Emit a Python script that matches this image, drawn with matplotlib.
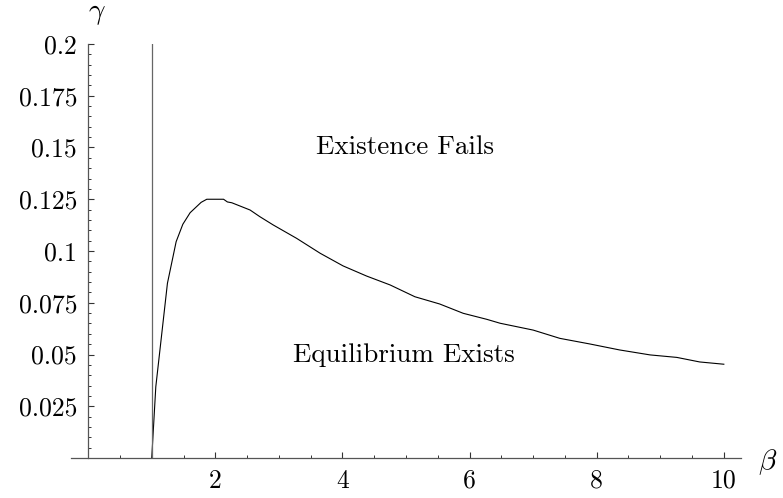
import matplotlib.pyplot as plt
from matplotlib.ticker import MultipleLocator, FixedLocator

plt.rcParams['font.family'] = ['cmr10', 'DejaVu Serif']
plt.rcParams['mathtext.fontset'] = 'cm'
plt.rcParams['axes.unicode_minus'] = False

# boundary curve
beta = [1.0, 1.064, 1.247, 1.384, 1.489, 1.604, 1.777, 1.866, 2.13, 2.19, 2.26,
        2.547, 2.70, 2.91, 3.28, 3.65, 4.01, 4.38, 4.75, 5.14, 5.53, 5.90,
        6.27, 6.48, 7.0, 7.42, 7.89, 8.36, 8.84, 9.26, 9.62, 10.0]
gamma = [0.0, 0.0344, 0.0844, 0.1045, 0.1129, 0.1185, 0.1235, 0.125, 0.125, 0.1237, 0.1233,
         0.1198, 0.1166, 0.1126, 0.1061, 0.0989, 0.0928, 0.0879, 0.0836, 0.0779, 0.0744, 0.0699,
         0.0670, 0.0651, 0.0618, 0.0578, 0.0551, 0.0522, 0.0498, 0.0486, 0.0464, 0.0453]
beta_line = 1.0

xticks = [2, 4, 6, 8, 10]
xtick_labels = ['2', '4', '6', '8', '10']
yticks = [0.025, 0.05, 0.075, 0.1, 0.125, 0.15, 0.175, 0.2]
ytick_labels = ['0.025', '0.05', '0.075', '0.1', '0.125', '0.15', '0.175', '0.2']

region_labels = ['Existence Fails', 'Equilibrium Exists']
region_pos = [(4.98, 0.15), (4.97, 0.0498)]

fig = plt.figure(figsize=(7.83, 4.98), dpi=100)
ax = fig.add_axes([71 / 783, 40 / 498, 670 / 783, 414 / 498])

axis_col = '#555555'
ax.plot(beta, gamma, color='black', lw=0.8)
ax.plot([beta_line, beta_line], [0, 0.2], color='#666666', lw=0.9)

ax.set_xlim(-0.27, 10.27)
ax.set_ylim(0, 0.2)

for s in ['top', 'right']:
    ax.spines[s].set_visible(False)
ax.spines['left'].set_position(('data', 0))
ax.spines['bottom'].set_position(('data', 0))
for s in ['left', 'bottom']:
    ax.spines[s].set_color(axis_col)
    ax.spines[s].set_linewidth(0.9)

ax.xaxis.set_major_locator(FixedLocator(xticks))
ax.set_xticklabels(xtick_labels)
ax.xaxis.set_minor_locator(MultipleLocator(0.5))
ax.yaxis.set_major_locator(FixedLocator(yticks))
ax.set_yticklabels(ytick_labels)
ax.yaxis.set_minor_locator(MultipleLocator(0.005))

ax.tick_params(axis='both', which='both', direction='in', color='#333333', labelsize=18.5)
ax.tick_params(axis='both', which='major', length=4, width=0.8)
ax.tick_params(axis='both', which='minor', length=2.5, width=0.7)
ax.tick_params(axis='x', which='major', pad=8)
ax.tick_params(axis='y', which='major', pad=8)

for lab, (x, y) in zip(region_labels, region_pos):
    ax.text(x, y, lab, ha='center', va='center', fontsize=19.5)

ax.annotate(r'$\gamma$', xy=(0, 0.2), xycoords='data', xytext=(6, 22),
            textcoords='offset points', ha='center', va='center', fontsize=21)
ax.annotate(r'$\beta$', xy=(1, 0), xycoords='axes fraction', xytext=(19, -3),
            textcoords='offset points', ha='center', va='center', fontsize=21)

fig.savefig('out.png', dpi=100)
